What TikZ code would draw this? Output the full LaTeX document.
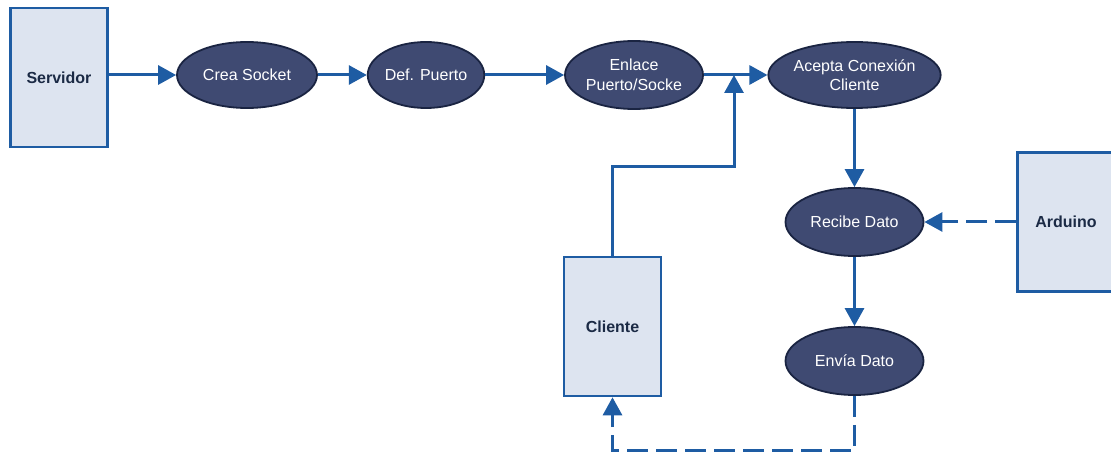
\documentclass[tikz,border=0pt]{standalone}
\usepackage{fontspec}
\setmainfont{Liberation Sans}
\usetikzlibrary{shapes.geometric,arrows.meta}
\definecolor{flow}{HTML}{1E5CA3}
\definecolor{ovalfill}{HTML}{3F4A72}
\definecolor{ovaledge}{HTML}{1A2442}
\definecolor{boxfill}{HTML}{DDE4F0}
\definecolor{boxtext}{HTML}{1B2A45}
\tikzset{
  process/.style={ellipse, draw=ovaledge, line width=1.8pt, fill=ovalfill,
    text=white, inner sep=0pt, align=center,
    font=\fontsize{16}{19.5}\selectfont},
  actor/.style={rectangle, draw=flow, line width=2.6pt, fill=boxfill,
    text=boxtext, inner sep=0pt, minimum width=97pt, minimum height=139pt,
    font=\fontsize{16}{19}\selectfont\bfseries},
  link/.style={draw=flow, line width=3pt,
    -{Triangle[length=18pt,width=19pt]}},
  dashlink/.style={link, dash pattern=on 21pt off 8pt},
}
\begin{document}
\begin{tikzpicture}[x=1pt,y=-1pt]
  \useasboundingbox (0,0) rectangle (1111,454);

  % participants
  \node[actor] (srv) at (59,77.5) {Servidor};
  \node[actor] (cli) at (612.5,326.5) {Cliente};
  \node[actor] (ard) at (1066,222) {Arduino};

  % server steps
  \node[process, minimum width=140pt, minimum height=66pt] (crea) at (247,75) {Crea Socket};
  \node[process, minimum width=112pt, minimum height=66pt] (def)  at (426,75) {Def. Puerto};
  \node[process, minimum width=138pt, minimum height=68pt] (enl)  at (634,75) {Enlace\\Puerto/Socke};
  \node[process, minimum width=166pt, minimum height=66pt] (acp)  at (854.5,75) {Acepta Conexión\\Cliente};
  \node[process, minimum width=138pt, minimum height=68pt] (rec)  at (854.5,222) {Recibe Dato};
  \node[process, minimum width=138pt, minimum height=68pt] (env)  at (854.5,361) {Envía Dato};

  % routing points
  \coordinate (join) at (734,75);
  \coordinate (bend) at (734,167);
  \coordinate (low)  at (854.5,450);

  % main sequence
  \draw[link] (srv.east |- crea) -- (crea);
  \draw[link] (crea) -- (def);
  \draw[link] (def) -- (enl);
  \draw[link] (enl) -- (acp);
  \draw[link] (acp) -- (rec);
  \draw[link] (rec) -- (env);

  % client request joins the accept line
  \draw[link] (cli.north) |- (bend) -- (join);

  % data paths
  \draw[dashlink] (ard) -- (rec);
  \draw[dashlink] (env.south) -- (low) -| (cli.south);
\end{tikzpicture}
\end{document}
